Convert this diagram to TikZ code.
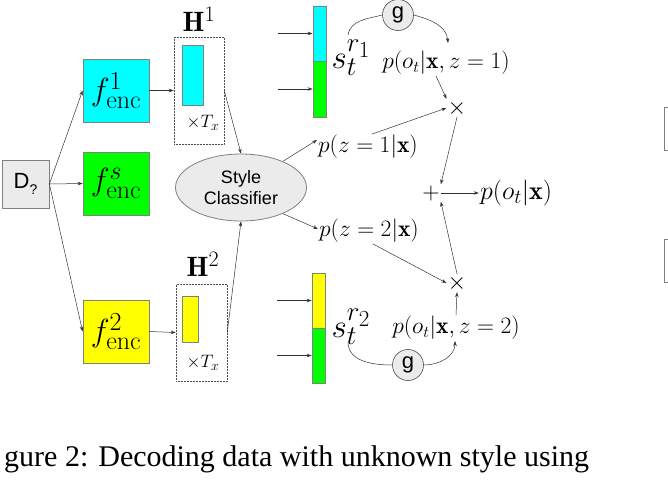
\RequirePackage{fix-cm}
\documentclass[tikz,border=0pt]{standalone}
\usepackage{fontspec}
\newfontfamily\sansf{Liberation Sans}
\newfontfamily\seriff{Liberation Serif}
\usetikzlibrary{shapes.geometric,arrows.meta}
\DeclareMathSizes{32}{32}{26}{22}
\DeclareMathSizes{28}{28}{22}{18}
\DeclareMathSizes{26}{26}{20}{16}
\DeclareMathSizes{33}{33}{27}{23}
\DeclareMathSizes{18}{18}{14}{11}
\definecolor{bd}{HTML}{808080}
\definecolor{lg}{HTML}{EBEBEB}
\definecolor{cy}{HTML}{00FFFF}
\definecolor{gr}{HTML}{00FF00}
\definecolor{ye}{HTML}{FFFF00}
\tikzset{
  conn/.style={draw=black!80, line width=0.5pt, -{Stealth[length=5pt,width=3.5pt]}},
  plain/.style={draw=black!80, line width=0.5pt},
  encbox/.style={draw=bd, line width=0.8pt, minimum width=66pt, minimum height=63pt, inner sep=0pt},
  dotbox/.style={draw=black!70, densely dotted, line width=0.5pt, inner sep=0pt},
  vecbox/.style={draw=bd, line width=0.8pt, inner sep=0pt},
  lbl/.style={inner sep=1pt, font=\fontsize{23.5}{23.5}\selectfont},
  opn/.style={inner sep=1pt, font=\fontsize{24}{24}\selectfont},
  gcirc/.style={circle, draw=black!70, fill=lg, line width=0.6pt, minimum size=31pt, inner sep=0pt, font=\sansf\fontsize{22}{22}\selectfont},
}
\begin{document}
\begin{tikzpicture}[x=1pt,y=-1pt]
\useasboundingbox (0,0) rectangle (668,480);
% input
\node[draw=bd, fill=lg, line width=0.8pt, minimum width=47pt, minimum height=48pt, inner sep=0pt, font=\sansf\fontsize{22}{22}\selectfont] (D) at (25.5,184) {D\raisebox{-0.45ex}{\fontsize{14}{14}\selectfont ?}};
% encoders
\node[encbox, fill=cy, font=\fontsize{32}{32}\selectfont] (f1) at (116,90.5) {$f^{1}_{\mathrm{enc}}$};
\node[encbox, fill=gr, font=\fontsize{32}{32}\selectfont] (fs) at (116,183.5) {$f^{s}_{\mathrm{enc}}$};
\node[encbox, fill=ye, font=\fontsize{32}{32}\selectfont] (f2) at (116,331.5) {$f^{2}_{\mathrm{enc}}$};
% hidden boxes
\node[dotbox, minimum width=50pt, minimum height=107pt] (H1) at (199,90.5) {};
\node[vecbox, fill=cy, minimum width=21pt, minimum height=60pt] (h1) at (192.5,75) {};
\node[inner sep=0pt, font=\fontsize{18}{18}\selectfont] (T1) at (203,123) {$\times T_x$};
\node[inner sep=0pt, font=\fontsize{28}{28}\selectfont] (H1l) at (199,19) {$\mathbf{H}^1$};
\node[dotbox, minimum width=51pt, minimum height=97pt] (H2) at (201.5,332.5) {};
\node[vecbox, fill=ye, minimum width=16pt, minimum height=46pt] (h2) at (190,319) {};
\node[inner sep=0pt, font=\fontsize{18}{18}\selectfont] (T2) at (203,363) {$\times T_x$};
\node[inner sep=0pt, font=\fontsize{28}{28}\selectfont] (H2l) at (203,264) {$\mathbf{H}^2$};
% classifier
\node[ellipse, draw=bd, fill=lg, line width=0.8pt, minimum width=131pt, minimum height=67pt, inner sep=0pt, align=center, font=\sansf\fontsize{18}{21}\selectfont] (SC) at (241,187.5) {Style\\Classifier};
% stacked vectors
\node[vecbox, fill=cy, minimum width=13pt, minimum height=55pt] (s1c) at (319.5,33.5) {};
\node[vecbox, fill=gr, minimum width=13pt, minimum height=56pt] (s1g) at (319.5,89) {};
\node[vecbox, fill=ye, minimum width=13pt, minimum height=55pt] (s2y) at (318.5,300.5) {};
\node[vecbox, fill=gr, minimum width=13pt, minimum height=55pt] (s2g) at (318.5,355.5) {};
\coordinate (i1) at (278,33.5);
\coordinate (i2) at (278,89);
\coordinate (i3) at (277,300.5);
\coordinate (i4) at (277,355.5);
\node[inner sep=0pt, font=\fontsize{33}{33}\selectfont] (sr1) at (351,58) {$s_t^{r_1}$};
\node[inner sep=0pt, font=\fontsize{33}{33}\selectfont] (sr2) at (351,327) {$s_t^{r_2}$};
% g circles
\node[gcirc] (g1) at (398,15) {g};
\node[gcirc] (g2) at (408,365) {g};
% probability labels
\node[lbl] (p1) at (446,63) {$p(o_t|\mathbf{x},z=1)$};
\node[lbl] (p2) at (456,328) {$p(o_t|\mathbf{x},z=2)$};
\node[lbl] (pz1) at (368,147) {$p(z=1|\mathbf{x})$};
\node[lbl] (pz2) at (369,231) {$p(z=2|\mathbf{x})$};
\node[inner sep=1pt, font=\fontsize{26}{26}\selectfont] (pox) at (516,193) {$p(o_t|\mathbf{x})$};
\node[opn] (t1) at (457,108) {$\times$};
\node[opn] (t2) at (457,283) {$\times$};
\node[opn] (pl) at (431,193) {$+$};
% partial boxes at right edge
\node[draw=bd, fill=white, line width=1pt, minimum width=40pt, minimum height=43pt, inner sep=0pt] (r1) at (684,128.5) {};
\node[draw=bd, fill=white, line width=1pt, minimum width=40pt, minimum height=43pt, inner sep=0pt] (r2) at (684,260.5) {};
% connectors
\draw[conn] (D.east) -- (f1.west);
\draw[conn] (D.east) -- (fs.west);
\draw[conn] (D.east) -- (f2.west);
\draw[conn] (f1.east) -- (H1.west);
\draw[conn] (f2.east) -- (H2.west);
\draw[conn] (H1.east) -- (SC.north);
\draw[conn] (H2.east) -- (SC.south);
\draw[conn] (i1) -- (s1c.west);
\draw[conn] (i2) -- (s1g.west);
\draw[conn] (i3) -- (s2y.west);
\draw[conn] (i4) -- (s2g.west);
\draw[conn] (SC.32) -- ([yshift=7pt]pz1.west);
\draw[conn] (SC.-32) -- ([yshift=2pt]pz2.west);
\draw[conn] ([xshift=4pt]pz1.north) -- (t1.west);
\draw[conn] ([xshift=-10pt]p1.south) -- (t1.north west);
\draw[conn] (t1.south) -- (pl.north east);
\draw[conn] (pl.east) -- (pox.west);
\draw[conn] ([xshift=4pt]pz2.south) -- (t2.west);
\draw[conn] (t2.north) -- (pl.south east);
\draw[conn] (p2.north) -- (t2.south);
\coordinate (c1) at (348,35);
\coordinate (c2) at (448,43);
\coordinate (c3) at (348,342);
\coordinate (c4) at (455,341);
\draw[plain] (c1) to[out=80,in=195] (g1.west);
\draw[conn] (g1.east) to[out=-15,in=95] (c2);
\draw[plain] (c3) to[out=-90,in=180] (g2.west);
\draw[conn] (g2.east) to[out=0,in=-90] (c4);
% caption
\node[anchor=base west, inner sep=0pt, font=\seriff\fontsize{30}{30}\selectfont] (cap) at (4,466) {gure 2: Decoding data with unknown style using};
\end{tikzpicture}
\end{document}
